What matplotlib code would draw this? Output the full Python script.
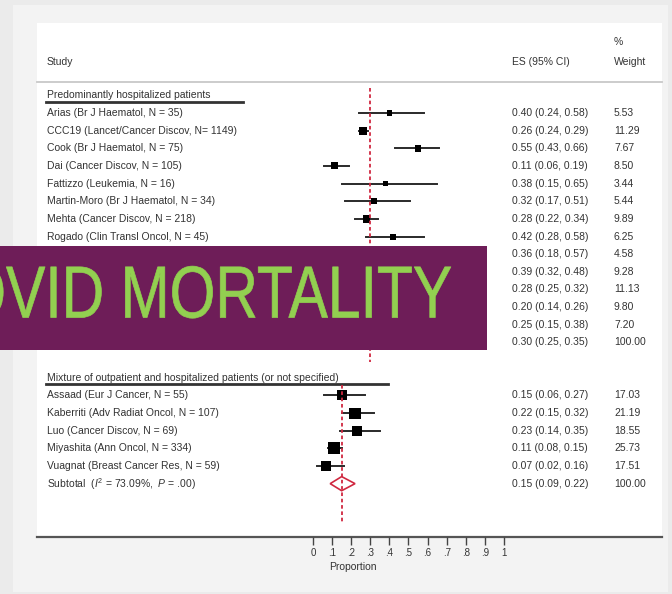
import matplotlib
matplotlib.use("Agg")
import matplotlib.pyplot as plt
from matplotlib.patches import Rectangle, Polygon
from matplotlib import patheffects
from matplotlib.transforms import Affine2D

plt.rcParams['font.family'] = ['Liberation Sans', 'DejaVu Sans']
plt.rcParams['mathtext.fontset'] = 'custom'
plt.rcParams['mathtext.rm'] = 'Liberation Sans'
plt.rcParams['mathtext.it'] = 'Liberation Sans:italic'

# grupo 1: pacientes hospitalizados
g1_titulo = "Predominantly hospitalized patients"
g1_estudios = ["Arias (Br J Haematol, N = 35)",
               "CCC19 (Lancet/Cancer Discov, N= 1149)",
               "Cook (Br J Haematol, N = 75)",
               "Dai (Cancer Discov, N = 105)",
               "Fattizzo (Leukemia, N = 16)",
               "Martin-Moro (Br J Haematol, N = 34)",
               "Mehta (Cancer Discov, N = 218)",
               "Rogado (Clin Transl Oncol, N = 45)",
               "", "", "", "", ""]
g1_es = [0.40, 0.26, 0.55, 0.11, 0.38, 0.32, 0.28, 0.42, 0.36, 0.39, 0.28, 0.20, 0.25]
g1_lo = [0.24, 0.24, 0.43, 0.06, 0.15, 0.17, 0.22, 0.28, 0.18, 0.32, 0.25, 0.14, 0.15]
g1_hi = [0.58, 0.29, 0.66, 0.19, 0.65, 0.51, 0.34, 0.58, 0.57, 0.48, 0.32, 0.26, 0.38]
g1_peso = [5.53, 11.29, 7.67, 8.50, 3.44, 5.44, 9.89, 6.25, 4.58, 9.28, 11.13, 9.80, 7.20]
g1_sub = (0.30, 0.25, 0.35)
g1_sub_txt = "Subtotal"

# grupo 2: mixto
g2_titulo = "Mixture of outpatient and hospitalized patients (or not specified)"
g2_estudios = ["Assaad (Eur J Cancer, N = 55)",
               "Kaberriti (Adv Radiat Oncol, N = 107)",
               "Luo (Cancer Discov, N = 69)",
               "Miyashita (Ann Oncol, N = 334)",
               "Vuagnat (Breast Cancer Res, N = 59)"]
g2_es = [0.15, 0.22, 0.23, 0.11, 0.07]
g2_lo = [0.06, 0.15, 0.14, 0.08, 0.02]
g2_hi = [0.27, 0.32, 0.35, 0.15, 0.16]
g2_peso = [17.03, 21.19, 18.55, 25.73, 17.51]
g2_sub = (0.15, 0.09, 0.22)
g2_sub_txt = r"Subtotal  ($I^2$ = 73.09%,  $P$ = .00)"

ticks = [0, .1, .2, .3, .4, .5, .6, .7, .8, .9, 1]
tick_labels = ["0", ".1", ".2", ".3", ".4", ".5", ".6", ".7", ".8", ".9", "1"]

W, H = 672, 594
ROJO = '#d02840'
VERDE = '#92d050'
fig = plt.figure(figsize=(W / 100, H / 100), dpi=100)
fig.patch.set_facecolor('#ebebeb')
ax = fig.add_axes([0, 0, 1, 1])
ax.set_xlim(-313 / 191, (W - 313) / 191)
ax.set_ylim((H - 113) / 17.65, -113 / 17.65)
ax.axis('off')


def fx(px):
    return px / W


def fy(py):
    return 1 - py / H


def caja(x0, y0, x1, y1, color, z=0):
    ax.add_patch(Rectangle((fx(x0), fy(y1)), fx(x1) - fx(x0), fy(y0) - fy(y1),
                           transform=ax.transAxes, facecolor=color,
                           edgecolor='none', zorder=z))


class Estrechar(patheffects.AbstractPathEffect):
    # comprime el texto en horizontal alrededor de x0 (pixeles) y le da algo de grosor
    def __init__(self, sx, x0, grosor, color):
        super().__init__()
        self.sx, self.x0, self.grosor, self.color = sx, x0, grosor, color

    def draw_path(self, renderer, gc, tpath, affine, rgbFace=None):
        t = affine + Affine2D().translate(-self.x0, 0).scale(self.sx, 1).translate(self.x0, 0)
        gc0 = renderer.new_gc()
        gc0.copy_properties(gc)
        gc0.set_linewidth(self.grosor)
        gc0.set_foreground(self.color)
        renderer.draw_path(gc0, tpath, t, rgbFace)
        gc0.restore()


caja(13, 5, 668, 592, '#f3f3f3')
caja(37, 23, 662, 536, 'white', 0.5)

tr = ax.get_yaxis_transform()
txt = dict(fontsize=7.5, color='#333333', va='center', transform=tr)
x_nom, x_es, x_peso = fx(47), fx(512), fx(614)

# cabecera
ax.text(x_nom, -2.9, "Study", **txt)
ax.text(x_es, -2.9, "ES (95% CI)", **txt)
ax.text(x_peso, -2.9, "Weight", **txt)
ax.text(x_peso, -4.0, "%", **txt)
ax.plot([fx(37), fx(662)], [-1.76, -1.76], color='#c8c8c8', lw=1.3,
        transform=tr, zorder=1)


def diamante(y, es, lo, hi):
    ax.add_patch(Polygon([(lo, y), (es, y - 0.4), (hi, y), (es, y + 0.4)],
                         closed=True, facecolor='white', edgecolor=ROJO,
                         lw=1.2, zorder=4))


def grupo(y0, titulo, estudios, es, lo, hi, peso, sub, sub_txt, x_fin):
    ax.text(x_nom, y0 - 1, titulo, **txt)
    ax.plot([fx(46), fx(x_fin)], [y0 - 0.62, y0 - 0.62], color='#333333',
            lw=2.0, transform=tr, zorder=2)
    filas = [y0 + i for i in range(len(estudios))]
    for y, nom, e, l, h, p in zip(filas, estudios, es, lo, hi, peso):
        ax.text(x_nom, y, nom, **txt)
        ax.text(x_es, y, f"{e:.2f} ({l:.2f}, {h:.2f})", **txt)
        ax.text(x_peso, y, f"{p:.2f}", **txt)
        ax.plot([l, h], [y, y], color='#2a2a2a', lw=1.4, zorder=2)
    ax.scatter(es, filas, marker='s', s=[3.0 * p for p in peso],
               color='black', zorder=3, linewidths=0)
    ys = y0 + len(estudios)
    ax.text(x_nom, ys, sub_txt, **txt)
    ax.text(x_es, ys, f"{sub[0]:.2f} ({sub[1]:.2f}, {sub[2]:.2f})", **txt)
    ax.text(x_peso, ys, "100.00", **txt)
    diamante(ys, *sub)
    return ys


s1 = grupo(0, g1_titulo, g1_estudios, g1_es, g1_lo, g1_hi, g1_peso,
           g1_sub, g1_sub_txt, 243)
ax.plot([g1_sub[0]] * 2, [-1.4, 14.1], color=ROJO, lw=1.3,
        ls=(0, (2.0, 1.5)), zorder=5)

s2 = grupo(16, g2_titulo, g2_estudios, g2_es, g2_lo, g2_hi, g2_peso,
           g2_sub, g2_sub_txt, 388)
ax.plot([g2_sub[0]] * 2, [15.4, 23.2], color=ROJO, lw=1.3,
        ls=(0, (2.0, 1.5)), zorder=5)

# eje inferior
ax.plot([fx(37), fx(662)], [24, 24], color='#555555', lw=1.6,
        transform=tr, zorder=2)
ax.vlines(ticks, 24, 24.45, color='#444444', lw=1.0, zorder=2)
for t, lab in zip(ticks, tick_labels):
    ax.text(t, 24.95, lab, fontsize=7, color='#333333', ha='center',
            va='center')
ax.text(0.21, 25.7, "Proportion", fontsize=7.5, color='#333333',
        ha='center', va='center')

# banner
caja(0, 246, 487, 350, '#6e1d58', 10)
ax.text(fx(452), fy(298), "COVID MORTALITY", transform=ax.transAxes,
        ha='right', va='center', fontsize=53, color=VERDE, zorder=11,
        path_effects=[Estrechar(0.8, 452, 0.5, VERDE)])

fig.savefig("out.png", dpi=100, facecolor=fig.get_facecolor())
